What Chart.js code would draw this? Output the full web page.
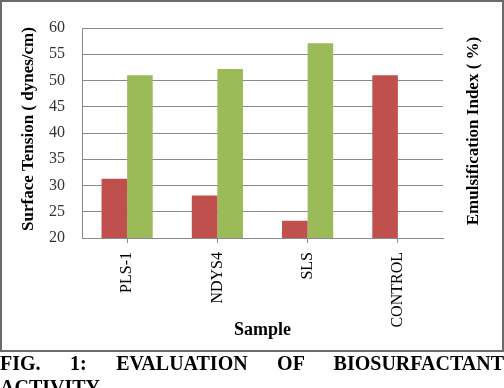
<!DOCTYPE html>
<html>
<head>
<meta charset="utf-8">
<script src="https://cdn.jsdelivr.net/npm/chart.js@4"></script>
<style>
  html, body { margin: 0; padding: 0; background: #fff; }
  body { width: 504px; height: 388px; position: relative; overflow: hidden; }
  #wrap { position: absolute; left: 0; top: 0; width: 504px; height: 352px; }
  #frame { position: absolute; left: 0; top: 0; width: 500px; height: 348px; border: 2px solid #6a6a6a; pointer-events: none; }
  .cap { position: absolute; left: 0; width: 504px; font-family: "Liberation Serif", serif; font-weight: bold; font-size: 20px; line-height: 24px; color: #000; white-space: nowrap; }
  #cap1 { top: 351px; text-align: justify; text-align-last: justify; white-space: normal; }
  #cap2 { top: 375px; }
</style>
</head>
<body>
<div id="wrap"><canvas id="c" width="504" height="352"></canvas></div>
<div id="frame"></div>
<div class="cap" id="cap1">FIG. 1: EVALUATION OF BIOSURFACTANT</div>
<div class="cap" id="cap2">ACTIVITY</div>
<script>
const categories = ["PLS-1", "NDYS4", "SLS", "CONTROL"];
const surfaceTension = [31.3, 28.1, 23.3, 51.0];
const emulsificationIndex = [51.0, 52.2, 57.1, null];
const yTicks = [20, 25, 30, 35, 40, 45, 50, 55, 60];

const serif = "'Liberation Serif', 'Times New Roman', serif";

const sideTitles = {
  id: 'sideTitles',
  afterDraw(chart) {
    const ctx = chart.ctx;
    const draw = (text, x, y) => {
      ctx.save();
      ctx.translate(x, y);
      ctx.rotate(-Math.PI / 2);
      ctx.font = "bold 17px " + serif;
      ctx.fillStyle = "#000";
      ctx.textAlign = "center";
      ctx.textBaseline = "middle";
      ctx.fillText(text, 0, 0);
      ctx.restore();
    };
    draw("Surface Tension ( dynes/cm)", 29, 129);
    draw("Emulsification Index ( %)", 474, 131);
  }
};

new Chart(document.getElementById('c'), {
  type: 'bar',
  data: {
    labels: categories,
    datasets: [
      { label: 'Surface Tension', data: surfaceTension, backgroundColor: '#C0504D', categoryPercentage: 0.567, barPercentage: 1.0 },
      { label: 'Emulsification Index', data: emulsificationIndex, backgroundColor: '#9BBB59', categoryPercentage: 0.567, barPercentage: 1.0 }
    ]
  },
  options: {
    responsive: false,
    animation: false,
    devicePixelRatio: 1,
    layout: { padding: { top: 28, right: 61, left: 0, bottom: 0 } },
    plugins: { legend: { display: false }, tooltip: { enabled: false } },
    scales: {
      x: {
        afterFit(s) { s.height = 114; },
        grid: { display: true, drawOnChartArea: false, offset: false, color: '#8a8a8a', tickLength: 5 },
        border: { color: '#8a8a8a' },
        ticks: { minRotation: 90, maxRotation: 90, padding: 9, color: '#000', font: { family: serif, size: 16 } },
        title: { display: true, text: 'Sample', color: '#000', font: { family: serif, size: 18, weight: 'bold' }, padding: { top: 11, bottom: 11 } }
      },
      y: {
        min: 20, max: 60,
        afterFit(s) { s.width = 82; },
        afterBuildTicks(s) { s.ticks = yTicks.map(v => ({ value: v })); },
        grid: { color: '#8a8a8a', drawTicks: false },
        border: { color: '#8a8a8a' },
        ticks: { padding: 17, color: '#333', font: { family: serif, size: 16 } },
        title: { display: false }
      }
    }
  },
  plugins: [sideTitles]
});
</script>
</body>
</html>
